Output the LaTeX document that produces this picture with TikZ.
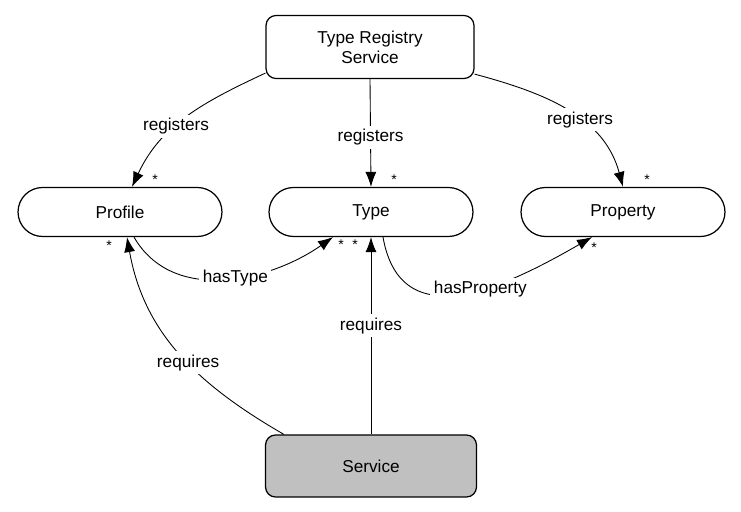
\documentclass[tikz,border=0pt]{standalone}
\usepackage{fontspec}
\setmainfont{Liberation Sans}
\usetikzlibrary{arrows.meta}
\definecolor{grisservicio}{RGB}{192,192,192}
\begin{document}
\begin{tikzpicture}[x=0.02cm, y=0.02cm]

	%DEFINICIONES
	\tikzstyle{every node}=[font=\fontsize{9.8}{11.5}\selectfont]
	\tikzstyle{bloque} = [draw, rounded corners=0.2cm, align=center, line width=0.7pt, fill=white, minimum width=4.16cm, minimum height=1.26cm]
	\tikzstyle{capsula} = [draw, rounded corners=0.49cm, align=center, line width=0.7pt, fill=white, minimum width=4.08cm, minimum height=0.98cm]
	\tikzstyle{blank} = [align=center, fill=white, inner sep=2pt]
	\tikzstyle{flecha} = [-{Latex[length=3mm, width=2.2mm]}, line width=0.5pt]
	\tikzstyle{estrella} = [inner sep=0pt, font=\fontsize{8}{8}\selectfont]

	\useasboundingbox (0,0) rectangle (741,511);

	%BLOQUES
	\draw(370,464) node[bloque](1){Type Registry\\Service};
	\draw(120,299) node[capsula](2){Profile};
	\draw(371,299) node[capsula](3){Type};
	\draw(623,299) node[capsula](4){Property};
	\draw(371,45) node[bloque, fill=grisservicio, minimum width=4.22cm, minimum height=1.24cm](5){Service};

	%FLECHAS
	\draw [flecha] ([yshift=0.12cm]1.south west) to[out=205,in=65] node[pos=0.58, blank]{registers} ([xshift=0.24cm]2.north);
	\draw [flecha] (1.south) -- node[pos=0.54, blank]{registers} (3.north);
	\draw [flecha] ([yshift=0.1cm]1.south east) to[out=-15,in=105] node[pos=0.58, blank]{registers} (4.north);
	\draw [flecha] ([xshift=0.28cm]2.south) to[out=-60,in=-145] node[pos=0.55, blank]{hasType} ([xshift=-0.76cm]3.south);
	\draw [flecha] ([xshift=0.24cm]3.south) to[out=-80,in=-150, looseness=1.25] node[pos=0.58, blank]{hasProperty} ([xshift=-0.62cm]4.south);
	\draw [flecha] ([xshift=0.38cm]5.north west) to[out=150,in=-80] node[pos=0.45, blank]{requires} ([xshift=0.14cm]2.south);
	\draw [flecha] (5.north) -- node[pos=0.55, blank]{requires} (3.south);

	%MULTIPLICIDADES
	\draw(155,331) node[estrella](6){*};
	\draw(394,331) node[estrella](7){*};
	\draw(647,331) node[estrella](8){*};
	\draw(341,266) node[estrella](9){*};
	\draw(355,266) node[estrella](10){*};
	\draw(594,263) node[estrella](11){*};
	\draw(109,265) node[estrella](12){*};
\end{tikzpicture}
\end{document}
